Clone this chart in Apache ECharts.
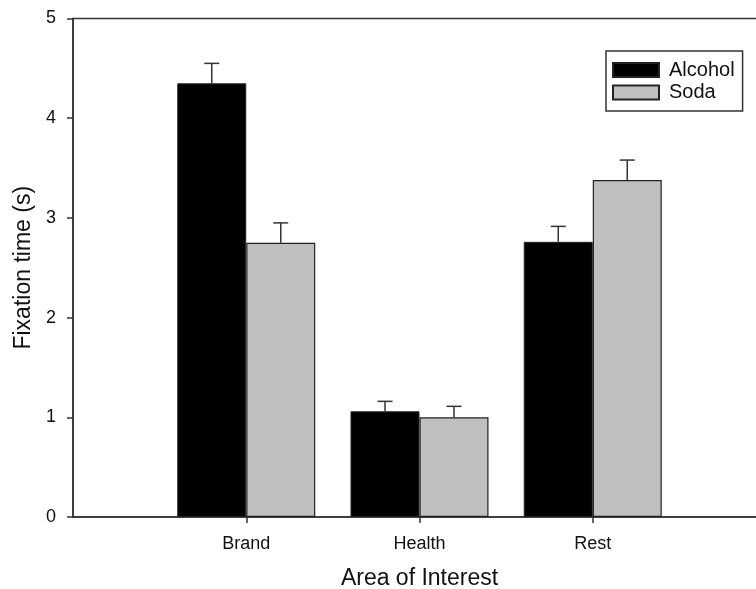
<!DOCTYPE html>
<html>
<head>
<meta charset="utf-8">
<script src="https://cdn.jsdelivr.net/npm/echarts@6/dist/echarts.min.js"></script>
<style>
html,body{margin:0;padding:0;background:#fff;}
#chart{width:756px;height:589px;}
</style>
</head>
<body>
<div id="chart"></div>
<script>
// ---- data ----
const categories = ['Brand', 'Health', 'Rest'];
const seriesNames = ['Alcohol', 'Soda'];
const alcohol = [4.35, 1.06, 2.76];
const soda = [2.75, 1.00, 3.38];
const alcoholErr = [0.20, 0.10, 0.155];
const sodaErr = [0.20, 0.11, 0.20];
const yTicks = [0, 1, 2, 3, 4, 5];

// ---- build ----
const FONT = '"Liberation Sans", Arial, sans-serif';
const axisCats = [''].concat(categories).concat(['']);
const pad = arr => [null].concat(arr).concat([null]);
const BAR_W = 69;

function errData(vals, errs) {
  return vals.map((v, i) => [i + 1, v, v + errs[i]]);
}
function errRender(offset) {
  return function (params, api) {
    const x = api.value(0);
    const base = api.coord([x, api.value(1)]);
    const top = api.coord([x, api.value(2)]);
    const cx = base[0] + offset;
    const capHalf = 7.5;
    const style = { stroke: '#333', lineWidth: 1.5, fill: null };
    return {
      type: 'group',
      children: [
        { type: 'line', shape: { x1: cx, y1: base[1], x2: cx, y2: top[1] }, style: style },
        { type: 'line', shape: { x1: cx - capHalf, y1: top[1], x2: cx + capHalf, y2: top[1] }, style: style }
      ]
    };
  };
}

const chart = echarts.init(document.getElementById('chart'));
chart.setOption({
  animation: false,
  backgroundColor: '#fff',
  textStyle: { fontFamily: FONT },
  grid: {
    left: 73, top: 18.5, bottom: 72, right: -10,
    outerBoundsMode: 'none', containLabel: false,
    show: true, borderColor: '#333', borderWidth: 1.5, backgroundColor: 'transparent'
  },
  legend: {
    data: seriesNames,
    orient: 'vertical',
    left: 606, top: 51,
    padding: [9, 8, 8.5, 6],
    itemGap: 2.5,
    itemWidth: 46, itemHeight: 14,
    icon: 'rect',
    borderColor: '#333', borderWidth: 1.5,
    textStyle: { fontSize: 20, color: '#111', fontFamily: FONT, lineHeight: 20, padding: [0, 0, 0, 5] }
  },
  xAxis: {
    type: 'category',
    data: axisCats,
    boundaryGap: false,
    name: 'Area of Interest',
    nameLocation: 'middle',
    nameGap: 50,
    nameTextStyle: { fontSize: 23, color: '#111', fontFamily: FONT },
    axisLine: { lineStyle: { color: '#333', width: 1.5 } },
    axisTick: { show: true, length: 6, lineStyle: { color: '#333', width: 1.5 },
      interval: (i) => i >= 1 && i <= categories.length },
    axisLabel: { fontSize: 18, color: '#111', margin: 18, fontFamily: FONT,
      interval: (i) => i >= 1 && i <= categories.length },
    splitLine: { show: false }
  },
  yAxis: {
    type: 'value',
    min: yTicks[0], max: yTicks[yTicks.length - 1], interval: 1,
    name: 'Fixation time (s)',
    nameLocation: 'middle',
    nameGap: 38,
    nameTextStyle: { fontSize: 23, color: '#111', fontFamily: FONT },
    axisLine: { show: true, lineStyle: { color: '#333', width: 1.5 } },
    axisTick: { show: true, length: 6, lineStyle: { color: '#333', width: 1.5 } },
    axisLabel: { fontSize: 18, color: '#111', margin: 17, fontFamily: FONT },
    splitLine: { show: false }
  },
  series: [
    {
      name: seriesNames[0], type: 'bar', data: pad(alcohol),
      barWidth: BAR_W, barGap: '0%',
      itemStyle: { color: '#000', borderColor: '#222', borderWidth: 1 }
    },
    {
      name: seriesNames[1], type: 'bar', data: pad(soda),
      barWidth: BAR_W, barGap: '0%',
      itemStyle: { color: '#c0c0c0', borderColor: '#222', borderWidth: 1.2 }
    },
    {
      type: 'custom', data: errData(alcohol, alcoholErr),
      renderItem: errRender(-BAR_W / 2), encode: { x: 0, y: [1, 2] }, z: 3, silent: true
    },
    {
      type: 'custom', data: errData(soda, sodaErr),
      renderItem: errRender(BAR_W / 2), encode: { x: 0, y: [1, 2] }, z: 3, silent: true
    }
  ]
});
</script>
</body>
</html>
